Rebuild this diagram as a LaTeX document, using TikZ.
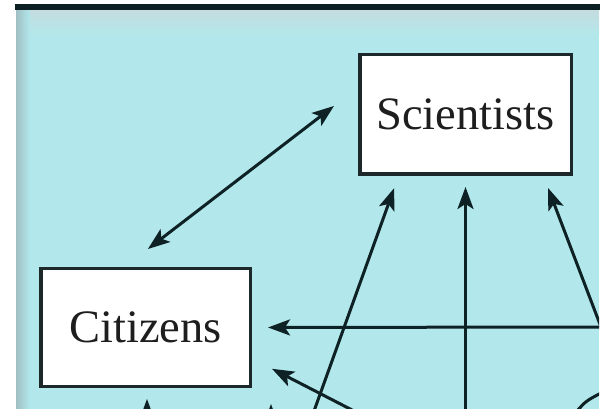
\documentclass[tikz,border=0pt]{standalone}
\usepackage{fontspec}
\setmainfont{Liberation Serif}
\usetikzlibrary{arrows.meta,calc}
\definecolor{panel}{RGB}{178,232,235}
\definecolor{panelhaze}{RGB}{196,220,224}
\definecolor{paneledge}{RGB}{160,192,197}
\definecolor{ink}{RGB}{14,34,38}
\definecolor{boxline}{RGB}{28,40,42}
\definecolor{textink}{RGB}{30,30,30}
\tikzset{
  tip/.style={Stealth[length=22pt,width=16pt,inset=5pt]},
  box/.style={draw=boxline, line width=3.5pt, fill=white, inner sep=0pt,
    font=\fontsize{46.5}{50}\selectfont, text=textink},
  link/.style={draw=ink, line width=3pt, -{Stealth[length=22pt,width=16pt,inset=5pt]}},
  twoway/.style={draw=ink, line width=3pt,
    {Stealth[length=22pt,width=16pt,inset=5pt]}-{Stealth[length=22pt,width=16pt,inset=5pt]}},
  plainline/.style={draw=ink, line width=3pt}
}
\begin{document}
\begin{tikzpicture}[x=1pt,y=-1pt]
\useasboundingbox (0,0) rectangle (606,409);
% panel background
\fill[panel] (16,10) rectangle (599,409);
\shade[top color=panelhaze, bottom color=panel] (16,10) rectangle (599,36);
\shade[left color=paneledge, right color=panel] (16,10) rectangle (30,409);
\fill[ink!90!black] (15,4) rectangle (600,10);

% boxes
\node[box, minimum width=211.5pt, minimum height=119.5pt] (sci) at (465.5,114.5) {Scientists};
\node[box, minimum width=209.5pt, minimum height=117.5pt] (cit) at (145.5,327.5) {Citizens};

% sources lying beyond the panel edges
\coordinate (rv) at (601,327);
\coordinate (o1) at (309,425);
\coordinate (o2) at (465.5,425);
\coordinate (o3) at (391,430);
\coordinate (o4) at (147,440);
\coordinate (o5) at (271,450);
\coordinate (t5) at (271,404);

\begin{scope}
\clip (16,10) rectangle (599,409);
\draw[twoway, shorten <=29.5pt, shorten >=30.3pt]
  ($(cit.north)+(-21,0)$) -- ($(sci.west)+(0,-27)$);
\draw[link, shorten >=12.8pt] (o1) -- ($(sci.south)+(-67,0)$);
\draw[link, shorten >=11pt] (o2) -- (sci.south);
\draw[link, shorten >=12.8pt] (rv) -- ($(sci.south)+(78,0)$);
\draw[link, shorten >=16pt] (rv) -- (cit.east);
\draw[link, shorten >=22.5pt] (o3) -- ($(cit.east)+(0,31)$);
\draw[link, shorten >=11pt] (o4) -- ($(cit.south)+(1.5,0)$);
\draw[link] (o5) -- (t5);
\draw[plainline] (577,411) .. controls (586,401) .. (601,393);
\end{scope}
\end{tikzpicture}
\end{document}
